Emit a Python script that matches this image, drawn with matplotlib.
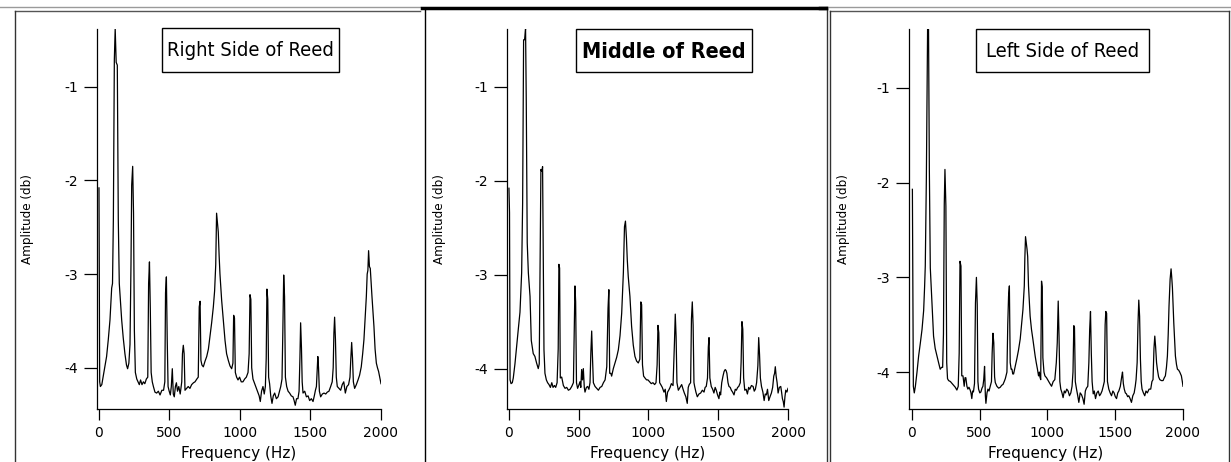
import matplotlib.pyplot as plt
from matplotlib.lines import Line2D
from matplotlib.patches import Rectangle

W, H = 1231, 462

# Spectra (Hz, dB)
right_freq = [0, 5, 10, 20, 30, 42, 54, 66, 78, 90, 96, 102, 109, 115, 122, 130, 137, 144, 152, 161,
              172, 184, 195, 203, 212, 220, 227, 232, 239, 245, 251, 258, 268, 277, 286, 295, 305, 315, 325, 336,
              346, 352, 358, 364, 370, 378, 386, 397, 409, 421, 433, 446, 458, 467, 472, 478, 484, 490, 498, 506,
              513, 520, 527, 534, 542, 549, 557, 566, 576, 587, 592, 598, 604, 610, 621, 633, 645, 657, 670, 681,
              694, 704, 711, 717, 723, 730, 740, 752, 764, 776, 787, 799, 811, 820, 828, 834, 840, 846, 852, 858,
              870, 882, 894, 905, 917, 929, 941, 950, 955, 961, 967, 976, 986, 997, 1009, 1021, 1033, 1045, 1057, 1065,
              1071, 1077, 1083, 1092, 1104, 1116, 1128, 1136, 1144, 1153, 1163, 1172, 1180, 1186, 1191, 1197, 1203, 1210, 1218, 1227,
              1236, 1246, 1258, 1270, 1280, 1289, 1298, 1304, 1310, 1316, 1322, 1331, 1341, 1352, 1364, 1376, 1384, 1392, 1401, 1411,
              1419, 1425, 1430, 1436, 1441, 1447, 1459, 1471, 1483, 1494, 1506, 1518, 1527, 1535, 1542, 1547, 1552, 1557, 1563, 1572,
              1584, 1596, 1608, 1619, 1631, 1643, 1654, 1661, 1666, 1671, 1677, 1683, 1690, 1702, 1714, 1725, 1736, 1747, 1758, 1770,
              1780, 1786, 1792, 1798, 1804, 1813, 1825, 1837, 1848, 1860, 1870, 1879, 1888, 1896, 1902, 1907, 1912, 1918, 1924, 1930,
              1936, 1943, 1950, 1958, 1967, 1975, 1983, 1991, 2000]
right_amp = [-2.08, -4.15, -4.20, -4.18, -4.09, -3.98, -3.88, -3.70, -3.49, -3.15, -3.10, -2.42, -0.71, -0.38, -0.74, -0.77, -2.42, -3.10, -3.28, -3.49,
             -3.68, -3.85, -3.97, -4.01, -3.95, -3.75, -2.90, -2.05, -1.85, -2.35, -3.60, -4.05, -4.12, -4.15, -4.18, -4.13, -4.18, -4.15, -4.17, -4.12,
             -4.10, -3.10, -2.87, -3.37, -4.05, -4.15, -4.20, -4.26, -4.27, -4.25, -4.29, -4.24, -4.24, -4.15, -3.20, -3.03, -3.70, -4.20, -4.25, -4.29,
             -4.20, -4.01, -4.28, -4.31, -4.20, -4.16, -4.25, -4.20, -4.28, -4.15, -3.85, -3.76, -3.85, -4.24, -4.22, -4.20, -4.22, -4.18, -4.16, -4.15,
             -4.12, -4.10, -3.35, -3.29, -3.92, -3.97, -3.99, -3.93, -3.88, -3.80, -3.67, -3.52, -3.35, -3.18, -2.90, -2.35, -2.45, -2.55, -2.80, -3.00,
             -3.28, -3.50, -3.71, -3.85, -3.92, -3.98, -4.01, -3.95, -3.44, -3.47, -4.05, -4.10, -4.13, -4.10, -4.15, -4.15, -4.12, -4.10, -4.05, -3.85,
             -3.22, -3.27, -4.00, -4.12, -4.17, -4.22, -4.27, -4.30, -4.36, -4.25, -4.20, -4.28, -4.20, -3.90, -3.16, -3.27, -4.10, -4.17, -4.30, -4.38,
             -4.30, -4.27, -4.33, -4.31, -4.25, -4.20, -4.12, -3.60, -3.01, -3.24, -4.10, -4.20, -4.25, -4.27, -4.30, -4.31, -4.35, -4.40, -4.33, -4.33,
             -4.25, -3.90, -3.52, -3.79, -4.15, -4.27, -4.25, -4.31, -4.30, -4.35, -4.33, -4.36, -4.30, -4.24, -4.20, -4.05, -3.88, -4.00, -4.25, -4.31,
             -4.28, -4.27, -4.28, -4.26, -4.25, -4.20, -4.15, -4.00, -3.63, -3.46, -3.70, -4.10, -4.20, -4.22, -4.24, -4.18, -4.15, -4.27, -4.20, -4.18,
             -4.10, -3.90, -3.73, -3.90, -4.15, -4.22, -4.18, -4.13, -4.08, -3.99, -3.85, -3.70, -3.45, -3.24, -3.00, -2.96, -2.75, -2.92, -2.94, -3.10,
             -3.24, -3.40, -3.56, -3.80, -3.95, -4.00, -4.04, -4.10, -4.17]

middle_freq = [0, 4, 8, 15, 24, 31, 43, 55, 67, 79, 91, 98, 105, 112, 119, 124, 131, 139, 151, 160,
               174, 186, 198, 210, 217, 222, 229, 236, 241, 251, 258, 268, 277, 287, 297, 307, 316, 326, 335, 345,
               353, 358, 363, 368, 378, 390, 402, 414, 426, 438, 450, 462, 468, 473, 478, 484, 492, 500, 509, 515,
               521, 527, 533, 540, 545, 555, 564, 573, 581, 587, 593, 598, 605, 617, 629, 641, 653, 665, 677, 689,
               701, 710, 716, 722, 730, 736, 748, 760, 772, 784, 796, 808, 820, 828, 835, 842, 848, 855, 867, 879,
               891, 903, 915, 927, 938, 945, 951, 957, 965, 975, 986, 996, 1008, 1020, 1032, 1044, 1054, 1062, 1068, 1074,
               1080, 1088, 1099, 1111, 1120, 1128, 1137, 1145, 1155, 1164, 1176, 1186, 1192, 1198, 1204, 1214, 1226, 1238, 1248, 1257,
               1268, 1278, 1285, 1292, 1302, 1308, 1314, 1320, 1326, 1331, 1340, 1350, 1362, 1374, 1386, 1398, 1406, 1414, 1423, 1429,
               1434, 1440, 1450, 1460, 1469, 1478, 1486, 1495, 1505, 1511, 1517, 1525, 1534, 1542, 1550, 1556, 1562, 1570, 1577, 1586,
               1594, 1603, 1613, 1622, 1630, 1639, 1647, 1658, 1664, 1670, 1676, 1682, 1690, 1700, 1709, 1718, 1726, 1738, 1750, 1758,
               1766, 1775, 1784, 1790, 1796, 1802, 1810, 1820, 1829, 1837, 1845, 1853, 1862, 1871, 1881, 1890, 1898, 1904, 1909, 1915,
               1922, 1929, 1938, 1948, 1954, 1960, 1966, 1972, 1978, 1984, 1992, 2000]
middle_amp = [-2.08, -2.34, -4.12, -4.16, -4.15, -4.10, -3.95, -3.76, -3.58, -3.40, -2.98, -2.24, -0.50, -0.50, -0.38, -1.14, -2.66, -2.98, -3.23, -3.70,
              -3.84, -3.87, -3.94, -4.00, -3.95, -3.10, -1.88, -1.90, -1.85, -3.80, -4.05, -4.12, -4.15, -4.17, -4.20, -4.15, -4.20, -4.18, -4.20, -4.15,
              -3.79, -2.89, -2.93, -4.10, -4.09, -4.18, -4.21, -4.20, -4.23, -4.22, -4.19, -4.15, -3.59, -3.12, -3.29, -4.15, -4.21, -4.18, -4.14, -4.20,
              -4.01, -4.12, -4.00, -4.20, -4.25, -4.20, -4.19, -4.22, -4.15, -3.83, -3.60, -3.85, -4.15, -4.19, -4.21, -4.23, -4.20, -4.19, -4.15, -4.12,
              -3.98, -3.36, -3.16, -4.05, -4.05, -4.08, -4.00, -3.94, -3.88, -3.80, -3.65, -3.41, -2.98, -2.49, -2.43, -2.61, -2.84, -3.02, -3.23, -3.55,
              -3.75, -3.87, -3.92, -3.94, -3.90, -3.29, -3.32, -3.96, -4.08, -4.10, -4.12, -4.12, -4.14, -4.16, -4.15, -4.17, -4.15, -3.96, -3.54, -3.62,
              -4.15, -4.17, -4.20, -4.25, -4.22, -4.35, -4.25, -4.23, -4.20, -4.16, -4.18, -3.73, -3.42, -3.66, -4.15, -4.23, -4.20, -4.17, -4.22, -4.26,
              -4.30, -4.37, -4.20, -4.17, -4.15, -3.47, -3.29, -3.54, -4.15, -4.19, -4.25, -4.30, -4.27, -4.26, -4.23, -4.25, -4.20, -4.19, -4.10, -3.77,
              -3.67, -4.10, -4.19, -4.22, -4.26, -4.20, -4.23, -4.28, -4.32, -4.25, -4.28, -4.15, -4.08, -4.03, -4.01, -4.02, -4.05, -4.15, -4.19, -4.20,
              -4.23, -4.25, -4.28, -4.22, -4.23, -4.20, -4.19, -4.15, -3.93, -3.50, -3.58, -4.10, -4.23, -4.22, -4.27, -4.20, -4.22, -4.18, -4.19, -4.24,
              -4.22, -4.15, -3.97, -3.67, -3.85, -4.10, -4.19, -4.25, -4.34, -4.27, -4.28, -4.22, -4.34, -4.30, -4.26, -4.20, -4.08, -4.05, -3.98, -4.08,
              -4.15, -4.26, -4.20, -4.19, -4.25, -4.32, -4.35, -4.41, -4.30, -4.23, -4.25, -4.21]

left_freq = [5, 12, 19, 27, 39, 51, 63, 76, 88, 95, 100, 108, 117, 124, 130, 137, 149, 161, 173, 186,
             198, 210, 220, 228, 234, 240, 245, 252, 258, 264, 272, 285, 297, 309, 321, 333, 343, 350, 356, 363,
             369, 378, 387, 393, 399, 407, 414, 422, 431, 437, 443, 449, 455, 463, 470, 477, 483, 488, 493, 502,
             510, 518, 525, 531, 537, 543, 547, 555, 562, 570, 579, 588, 593, 599, 605, 611, 616, 628, 641, 653,
             663, 673, 682, 690, 702, 708, 714, 720, 726, 733, 739, 745, 751, 763, 775, 787, 800, 810, 820, 830,
             834, 839, 845, 850, 855, 861, 873, 883, 893, 902, 910, 918, 927, 935, 941, 945, 951, 957, 962, 967,
             975, 982, 994, 1006, 1018, 1031, 1043, 1055, 1066, 1073, 1080, 1086, 1092, 1099, 1108, 1116, 1125, 1133, 1143, 1153,
             1163, 1173, 1182, 1189, 1195, 1200, 1206, 1215, 1224, 1232, 1242, 1252, 1262, 1271, 1280, 1288, 1298, 1306, 1312, 1318,
             1324, 1330, 1338, 1346, 1355, 1365, 1375, 1385, 1394, 1403, 1412, 1420, 1426, 1431, 1437, 1443, 1453, 1463, 1473, 1483,
             1492, 1501, 1510, 1519, 1527, 1538, 1548, 1554, 1560, 1567, 1575, 1583, 1592, 1600, 1610, 1620, 1630, 1640, 1648, 1654,
             1662, 1668, 1674, 1680, 1686, 1692, 1698, 1708, 1718, 1727, 1737, 1750, 1762, 1771, 1779, 1786, 1792, 1798, 1805, 1811,
             1820, 1829, 1841, 1853, 1862, 1870, 1878, 1885, 1891, 1897, 1905, 1912, 1917, 1922, 1932, 1944, 1952, 1959, 1968, 1976,
             1988, 1995, 2000]
left_amp = [-2.07, -4.15, -4.22, -4.15, -4.00, -3.83, -3.70, -3.55, -3.35, -3.10, -2.88, -1.95, -0.38, -0.38, -1.86, -2.90, -3.27, -3.62, -3.75, -3.83,
            -3.90, -3.97, -3.95, -3.95, -3.60, -2.23, -1.86, -2.25, -3.90, -4.07, -4.09, -4.10, -4.12, -4.14, -4.16, -4.19, -4.15, -3.80, -2.83, -2.88,
            -4.04, -4.04, -4.15, -4.06, -4.06, -4.15, -4.18, -4.16, -4.19, -4.22, -4.28, -4.20, -4.21, -4.12, -3.27, -3.00, -3.29, -4.10, -4.18, -4.22,
            -4.21, -4.17, -4.15, -4.08, -3.94, -4.25, -4.33, -4.22, -4.18, -4.20, -4.15, -4.10, -3.80, -3.59, -3.69, -4.05, -4.11, -4.15, -4.17, -4.16,
            -4.14, -4.13, -4.10, -4.07, -4.00, -3.50, -3.20, -3.09, -3.90, -3.97, -3.97, -4.02, -4.02, -3.94, -3.86, -3.77, -3.65, -3.50, -3.34, -3.09,
            -2.80, -2.57, -2.64, -2.70, -2.78, -3.09, -3.41, -3.55, -3.65, -3.75, -3.83, -3.90, -3.97, -4.04, -4.00, -4.05, -4.08, -3.04, -3.10, -3.85,
            -4.00, -4.04, -4.06, -4.09, -4.12, -4.15, -4.10, -4.08, -3.90, -3.69, -3.25, -3.62, -4.10, -4.18, -4.22, -4.27, -4.20, -4.22, -4.18, -4.20,
            -4.25, -4.22, -4.15, -4.00, -3.51, -3.53, -4.10, -4.18, -4.25, -4.32, -4.22, -4.24, -4.28, -4.34, -4.20, -4.17, -4.15, -3.90, -3.55, -3.36,
            -3.80, -4.10, -4.23, -4.20, -4.28, -4.22, -4.20, -4.25, -4.23, -4.20, -4.15, -4.10, -3.50, -3.36, -3.38, -4.10, -4.18, -4.22, -4.25, -4.20,
            -4.22, -4.26, -4.28, -4.22, -4.20, -4.15, -4.05, -4.00, -4.12, -4.18, -4.22, -4.23, -4.26, -4.25, -4.28, -4.32, -4.25, -4.22, -4.15, -4.08,
            -3.90, -3.50, -3.24, -3.41, -3.86, -4.10, -4.18, -4.22, -4.25, -4.20, -4.22, -4.18, -4.18, -4.10, -4.08, -3.75, -3.62, -3.73, -3.90, -3.97,
            -4.05, -4.08, -4.09, -4.09, -4.06, -4.04, -3.95, -3.83, -3.60, -3.30, -3.02, -2.91, -3.00, -3.11, -3.48, -3.83, -3.92, -3.97, -3.98, -4.00,
            -4.04, -4.10, -4.15]

titles = ['Right Side of Reed', 'Middle of Reed', 'Left Side of Reed']
x_ticks = [0, 500, 1000, 1500, 2000]
y_ticks = [-1, -2, -3, -4]

# axes box in pixels: left, top, right, bottom ; xlim start ; ylim
panels = [
    (right_freq, right_amp, (97, 29, 381, 409), -14, (-4.44, -0.384)),
    (middle_freq, middle_amp, (507, 29, 788, 409), -14, (-4.43, -0.385)),
    (left_freq, left_amp, (909, 29, 1183, 409), -20, (-4.39, -0.377)),
]
# title boxes in pixels: left, top, right, bottom
title_boxes = [(162, 28, 339, 72), (576, 29, 752, 72), (976, 29, 1149, 72)]
narrow = dict(family='DejaVu Sans', fontstretch='condensed')
title_fonts = [
    dict(fontsize=14.5, **narrow),
    dict(fontsize=15.5, fontweight='bold', **narrow),
    dict(fontsize=14.5, **narrow),
]
ylabel_x = [28, 439, 843]


def fx(x):
    return x / W


def fy(y):
    return 1 - y / H


fig = plt.figure(figsize=(W / 100, H / 100), dpi=100)
fig.patch.set_facecolor('white')

for i, (freq, amp, box, x0, ylim) in enumerate(panels):
    l, t, r, b = box
    ax = fig.add_axes([fx(l), fy(b), (r - l) / W, (b - t) / H])
    ax.plot(freq, amp, color='black', linewidth=0.9)
    ax.set_xlim(x0, 2000)
    ax.set_ylim(*ylim)
    ax.set_xticks(x_ticks)
    ax.set_yticks(y_ticks)
    ax.set_yticklabels([str(v) for v in y_ticks])
    for s in ['top', 'right']:
        ax.spines[s].set_visible(False)
    for s in ['left', 'bottom']:
        ax.spines[s].set_linewidth(0.9)
    ax.tick_params(axis='y', direction='out', length=9.5, width=0.9, pad=4, labelsize=10)
    ax.tick_params(axis='x', direction='out', length=8, width=0.9, pad=4, labelsize=10)
    ax.set_xlabel('Frequency (Hz)', fontsize=11)
    ax.xaxis.label.set_va('top')
    ax.xaxis.set_label_coords(0.5, -(438 - b) / (b - t) - 0.02)
    fig.text(fx(ylabel_x[i]), fy((t + b) / 2), 'Amplitude (db)', rotation=90,
             ha='center', va='center', fontsize=9.5, **narrow)

    # title box
    bl, bt, br, bb = title_boxes[i]
    fig.add_artist(Rectangle((fx(bl), fy(bb)), (br - bl) / W, (bb - bt) / H,
                             transform=fig.transFigure, fill=False,
                             edgecolor='black', linewidth=1.0))
    fig.text(fx((bl + br) / 2), fy((bt + bb) / 2 + 1), titles[i],
             ha='center', va='center', **title_fonts[i])

# panel frames
frame_lines = [
    ([0, 420], [7, 7], '#9a9a9a', 1.0),
    ([15, 420], [11, 11], '#555555', 1.0),
    ([15, 15], [11, 462], '#333333', 1.0),
    ([422, 826], [8, 8], 'black', 2.5),
    ([425, 425], [10, 462], 'black', 1.0),
    ([827, 827], [10, 462], '#333333', 1.0),
    ([826, 1231], [7, 7], '#9a9a9a', 1.0),
    ([820, 826], [8, 8], 'black', 2.5),
    ([830, 1229], [11, 11], '#555555', 1.0),
    ([830, 830], [11, 462], '#333333', 1.0),
    ([1229, 1229], [11, 462], '#333333', 1.0),
]
for xs, ys, c, lw in frame_lines:
    fig.add_artist(Line2D([fx(v) for v in xs], [fy(v) for v in ys],
                          transform=fig.transFigure, color=c, linewidth=lw))

fig.savefig('out.png', dpi=100)
